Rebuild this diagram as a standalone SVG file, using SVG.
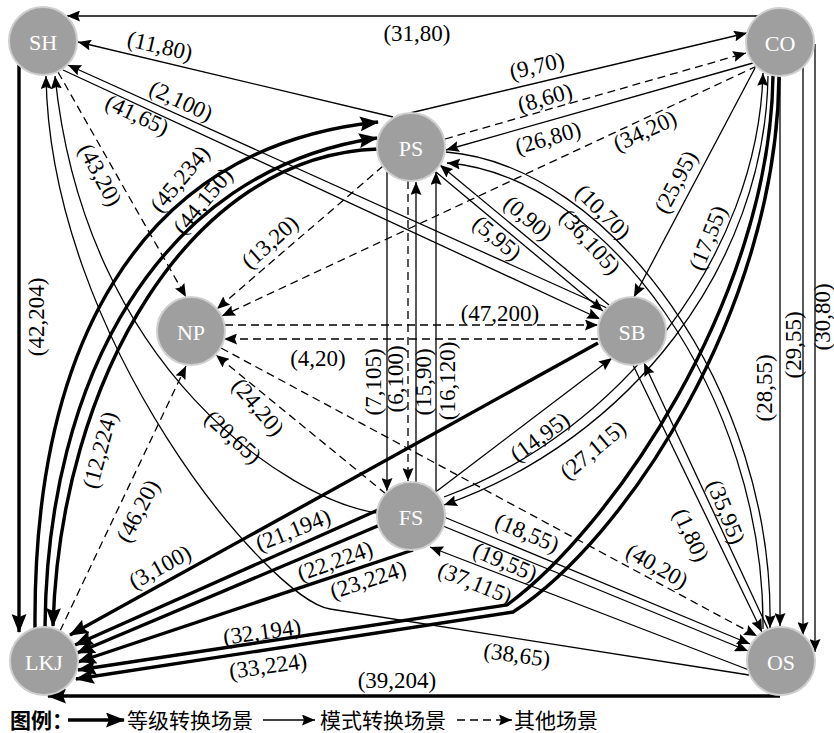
<svg xmlns="http://www.w3.org/2000/svg" width="834" height="733" viewBox="0 0 834 733">
  <style>
    .t { fill: none; stroke: #000; stroke-width: 1.3; marker-end: url(#arr); }
    .d { fill: none; stroke: #000; stroke-width: 1.3; stroke-dasharray: 8 5; marker-end: url(#arr); }
    .k { fill: none; stroke: #000; stroke-width: 3.4; marker-end: url(#arrk); }
    .lb { font-family: "Liberation Serif", "Times New Roman", serif; font-size: 23px; fill: #000; text-anchor: middle; dominant-baseline: central; }
    .node circle { fill: #9f9f9f; stroke: #cfcfcf; stroke-width: 2; }
    .node text { font-family: "Liberation Serif", "Times New Roman", serif; font-size: 22px; fill: #fff; text-anchor: middle; dominant-baseline: central; }
    .lg { font-family: "Noto Sans CJK SC", sans-serif; font-size: 21px; fill: #000; }
  </style>
  <defs>
    <marker id="arr" markerUnits="userSpaceOnUse" markerWidth="14" markerHeight="11" refX="13" refY="5.5" orient="auto">
      <path d="M0,0 L13,5.5 L0,11 L2,5.5 z" fill="#000"/>
    </marker>
    <marker id="arrk" markerUnits="userSpaceOnUse" markerWidth="20" markerHeight="15" refX="18" refY="7.5" orient="auto">
      <path d="M0,0 L19,7.5 L0,15 L3,7.5 z" fill="#000"/>
    </marker>
  </defs>
  <rect width="834" height="733" fill="#fff"/>

  <g id="connectors">
    <!-- top row -->
    <path class="t" d="M758,16 H67"/><text class="lb" x="417" y="33">(31,80)</text>
    <path class="t" d="M393,117 L78,42"/><text class="lb" transform="translate(160,46) rotate(13)">(11,80)</text>
    <path class="t" d="M410,113 L747,33"/><text class="lb" transform="translate(537,66) rotate(-13)">(9,70)</text>
    <path class="d" d="M445,139 L746,53"/><text class="lb" transform="translate(545,98) rotate(-16)">(8,60)</text>
    <path class="t" d="M753,63 L446,150"/><text class="lb" transform="translate(548,138) rotate(-16)">(26,80)</text>
    <path class="d" d="M757,66 L222,316"/><text class="lb" transform="translate(645,131) rotate(-25)">(34,20)</text>
    <path class="t" d="M755,68 L634,297"/><text class="lb" transform="translate(676,182) rotate(-62)">(25,95)</text>

    <!-- SH / SB -->
    <path class="t" d="M607,308 L68,65"/><text class="lb" transform="translate(181,101) rotate(25)">(2,100)</text>
    <path class="t" d="M63,70 L600,319"/><text class="lb" transform="translate(137,115) rotate(25)">(41,65)</text>

    <!-- PS / SB -->
    <path class="t" d="M609,305 L440,165"/><text class="lb" transform="translate(528,218) rotate(40)">(0,90)</text>
    <path class="t" d="M436,172 L603,311"/><text class="lb" transform="translate(497,238) rotate(40)">(5,95)</text>

    <!-- PS / OS arcs -->
    <path class="t" d="M446,152 C610,165 775,390 770,628"/><text class="lb" transform="translate(603,212) rotate(45)">(10,70)</text>
    <path class="t" d="M763,629 C765,395 605,175 447,163"/><text class="lb" transform="translate(590,242) rotate(48)">(36,105)</text>

    <!-- dashed into NP -->
    <path class="d" d="M58,72 L186,297"/><text class="lb" transform="translate(100,175) rotate(62)">(43,20)</text>
    <path class="d" d="M383,166 L217,309"/><text class="lb" transform="translate(270,242) rotate(-42)">(13,20)</text>
    <path class="d" d="M386,494 L216,355"/><text class="lb" transform="translate(258,407) rotate(50)">(24,20)</text>
    <path class="d" d="M60,631 L186,366"/><text class="lb" transform="translate(138,511) rotate(-62)">(46,20)</text>
    <path class="d" d="M225,325 H598"/><text class="lb" x="500" y="313">(47,200)</text>
    <path class="d" d="M599,339 H224"/><text class="lb" x="318" y="358">(4,20)</text>
    <path class="d" d="M221,348 L757,636"/><text class="lb" transform="translate(657,566) rotate(30)">(40,20)</text>

    <!-- LKJ / PS arcs -->
    <path class="k" d="M35,628 C33,355 132,148 378,122"/><text class="lb" transform="translate(180,179) rotate(-50)">(45,234)</text>
    <path class="k" d="M45,627 C47,380 158,170 377,138"/><text class="lb" transform="translate(203,201) rotate(-50)">(44,150)</text>
    <path class="k" d="M378,149 C190,155 60,380 53,626"/><text class="lb" transform="translate(100,450) rotate(-75)">(12,224)</text>

    <!-- SH / LKJ -->
    <path class="k" d="M19,65 V632"/><text class="lb" transform="translate(36,317) rotate(-90)">(42,204)</text>

    <!-- PS / FS -->
    <path class="t" d="M387,172 V491"/><text class="lb" transform="translate(373,382) rotate(-90)">(7,105)</text>
    <path class="d" d="M408,181 V481"/><text class="lb" transform="translate(395,379) rotate(-90)">(6,100)</text>
    <path class="t" d="M416,482 V182"/><text class="lb" transform="translate(423,382) rotate(-90)">(15,90)</text>
    <path class="t" d="M436,492 V172"/><text class="lb" transform="translate(447,381) rotate(-90)">(16,120)</text>

    <!-- CO / OS -->
    <path class="t" d="M780,76 V626"/><text class="lb" transform="translate(764,388) rotate(-90)">(28,55)</text>
    <path class="t" d="M803,67 V635"/><text class="lb" transform="translate(793,345) rotate(-90)">(29,55)</text>
    <path class="t" d="M815,44 V652"/><text class="lb" transform="translate(822,317) rotate(-90)">(30,80)</text>

    <!-- back to SH -->
    <path class="t" d="M377,513 C290,500 85,370 55,76"/><text class="lb" transform="translate(233,437) rotate(42)">(20,65)</text>
    <path class="t" d="M749,675 L330,609 C270,600 50,340 46,76"/><text class="lb" transform="translate(517,655) rotate(8)">(38,65)</text>

    <!-- FS / SB / CO -->
    <path class="t" d="M437,491 L612,358"/><text class="lb" transform="translate(540,437) rotate(-36)">(14,95)</text>
    <path class="t" d="M768,76 C765,265 630,440 444,505"/><text class="lb" transform="translate(593,450) rotate(-40)">(27,115)</text>
    <path class="t" d="M444,497 C620,432 758,255 763,73"/><text class="lb" transform="translate(708,238) rotate(-68)">(17,55)</text>

    <!-- into LKJ -->
    <path class="k" d="M598,343 L70,635"/><text class="lb" transform="translate(160,567) rotate(-29)">(3,100)</text>
    <path class="k" d="M378,510 L75,645"/><text class="lb" transform="translate(293,530) rotate(-22)">(21,194)</text>
    <path class="k" d="M380,525 L77,653"/><text class="lb" transform="translate(335,561) rotate(-20)">(22,224)</text>
    <path class="k" d="M413,550 L78,662"/><text class="lb" transform="translate(368,580) rotate(-18)">(23,224)</text>
    <path class="k" d="M773,76 C770,300 610,530 507,605 L78,670"/><text class="lb" transform="translate(262,632) rotate(-8)">(32,194)</text>
    <path class="k" d="M779,76 C777,310 625,540 513,612 L76,679"/><text class="lb" transform="translate(268,666) rotate(-8)">(33,224)</text>
    <path class="k" d="M780,696 H48"/><text class="lb" x="397" y="680">(39,204)</text>

    <!-- FS / OS / SB -->
    <path class="t" d="M444,517 L750,644"/><text class="lb" transform="translate(527,533) rotate(23)">(18,55)</text>
    <path class="t" d="M443,526 L748,651"/><text class="lb" transform="translate(505,562) rotate(23)">(19,55)</text>
    <path class="t" d="M749,670 L430,547"/><text class="lb" transform="translate(475,583) rotate(22)">(37,115)</text>
    <path class="t" d="M633,365 L762,632"/><text class="lb" transform="translate(691,535) rotate(65)">(1,80)</text>
    <path class="t" d="M768,629 L644,363"/><text class="lb" transform="translate(726,512) rotate(68)">(35,95)</text>
  </g>

  <g id="SH" class="node"><circle cx="43" cy="41" r="34"/><text x="43" y="42">SH</text></g>
  <g id="CO" class="node"><circle cx="780" cy="42" r="34"/><text x="780" y="43">CO</text></g>
  <g id="PS" class="node"><circle cx="411" cy="147" r="34"/><text x="411" y="148">PS</text></g>
  <g id="NP" class="node"><circle cx="191" cy="331" r="34"/><text x="191" y="332">NP</text></g>
  <g id="SB" class="node"><circle cx="632" cy="331" r="34"/><text x="632" y="332">SB</text></g>
  <g id="FS" class="node"><circle cx="411" cy="516" r="34"/><text x="411" y="517">FS</text></g>
  <g id="LKJ" class="node"><circle cx="44" cy="661" r="34"/><text x="44" y="662">LKJ</text></g>
  <g id="OS" class="node"><circle cx="781" cy="661" r="34"/><text x="781" y="662">OS</text></g>

  <g id="legend">
    <text class="lg" x="10" y="728" font-weight="bold">图例：</text>
    <path class="k" d="M68,720 H124"/>
    <text class="lg" x="127" y="728">等级转换场景</text>
    <path class="t" d="M263,720 H315"/>
    <text class="lg" x="320" y="728">模式转换场景</text>
    <path class="d" d="M457,720 H512"/>
    <text class="lg" x="514" y="728">其他场景</text>
  </g>
</svg>
